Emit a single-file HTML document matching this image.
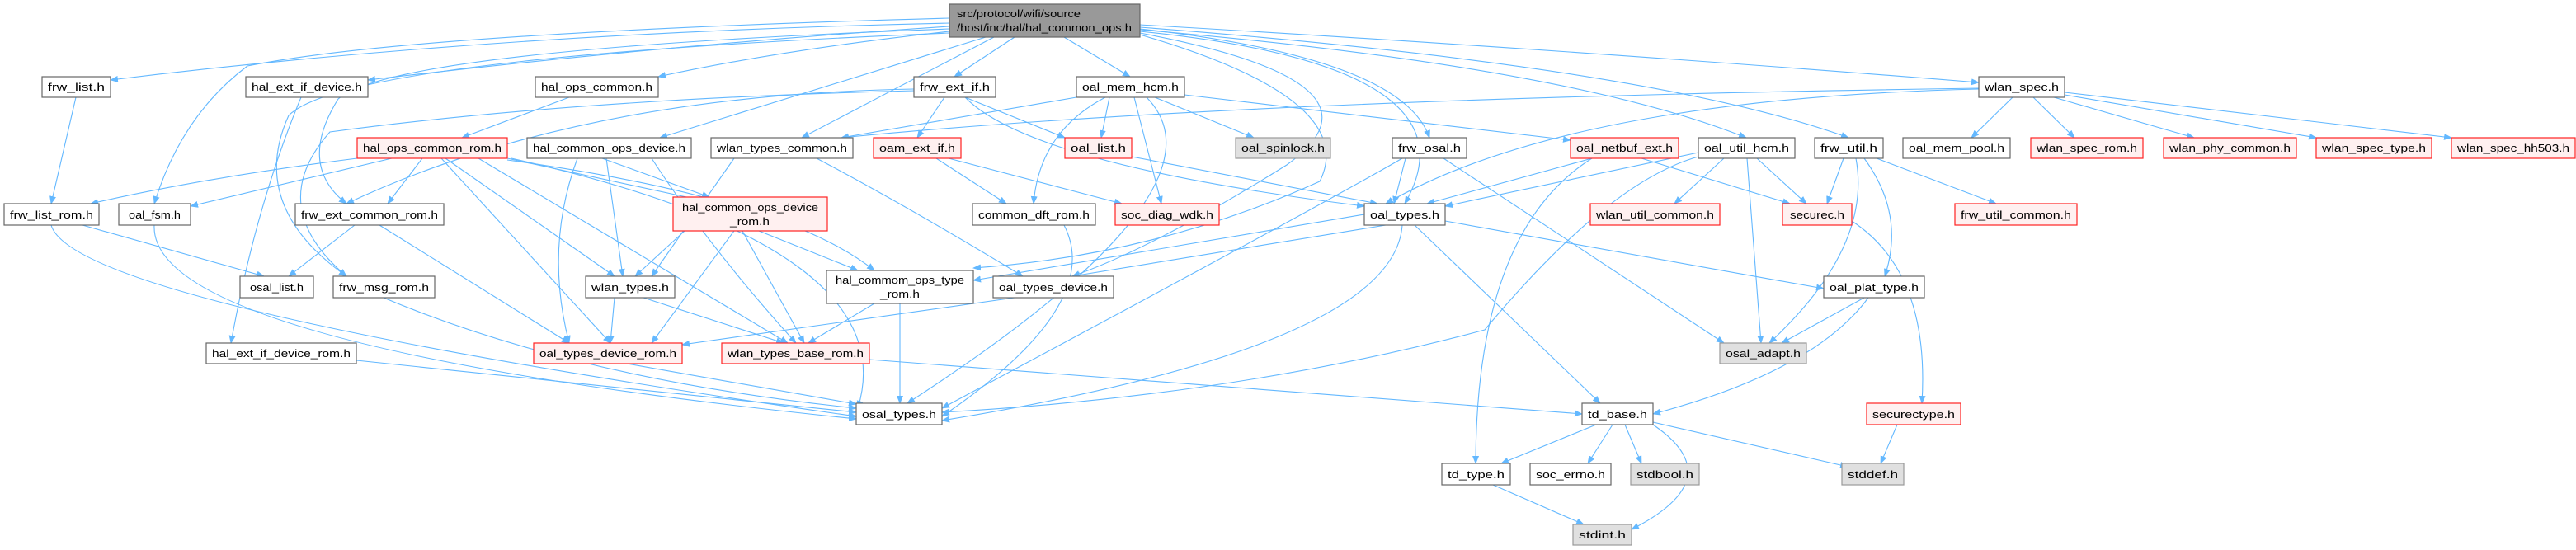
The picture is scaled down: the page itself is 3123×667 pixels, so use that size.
<!DOCTYPE html>
<html><head><meta charset="utf-8"><style>
html,body{margin:0;padding:0;background:#fff;}
svg{display:block;}
text{font-family:"Liberation Sans",sans-serif;font-size:13px;fill:#000;}
.e{stroke:#63b8ff;stroke-width:1.1;fill:none;marker-end:url(#a);}
.n{fill:#fff;stroke:#666;stroke-width:1.2;}
.r{fill:#fff0f0;stroke:#f22;stroke-width:1.2;}
.g{fill:#e0e0e0;stroke:#999;stroke-width:1.2;}
</style></head><body>
<svg width="3123" height="667" viewBox="0 0 3123 667" xmlns="http://www.w3.org/2000/svg">
<defs><marker id="a" markerWidth="10" markerHeight="8" refX="9" refY="4" orient="auto" markerUnits="userSpaceOnUse"><path d="M0,0 L10,4 L0,8 z" fill="#63b8ff"/></marker></defs>
<g>
<!-- root edges -->
<path class="e" d="M1151,28 Q600,40 134,97"/>
<path class="e" d="M1151,32 Q800,55 446,97"/>
<path class="e" d="M1151,38 Q950,60 798,93"/>
<path class="e" d="M1151,22 Q500,40 300,80 Q220,140 187,247"/>
<path class="e" d="M1230,45 L1157,93"/>
<path class="e" d="M1290,45 L1370,93"/>
<path class="e" d="M1382,30 Q1900,60 2399,100"/>
<path class="e" d="M1205,45 L972,167"/>
<path class="e" d="M1195,45 L800,167"/>
<path class="e" d="M1382,35 Q1700,70 1733,167"/>
<path class="e" d="M1382,38 Q1800,80 1703,247"/>
<path class="e" d="M1382,36 Q1900,80 2117,167"/>
<path class="e" d="M1382,33 Q2000,80 2241,167"/>
<path class="e" d="M1151,35 Q480,60 410,120 Q360,200 420,247"/>
<path class="e" d="M1151,40 Q420,70 350,140 Q300,250 420,335"/>
<path class="e" d="M1382,40 Q1700,100 1560,200 Q1400,300 1300,335"/>
<path class="e" d="M1382,42 Q1650,120 1600,220 Q1400,310 1180,325"/>
<!-- layer 1 -->
<path class="e" d="M690,118 L560,167"/>
<path class="e" d="M92,118 L62,247"/>
<path class="e" d="M365,118 Q310,250 280,416"/>
<path class="e" d="M1108,108 Q700,115 420,247"/>
<path class="e" d="M1108,110 Q700,120 400,160 Q320,250 420,335"/>
<path class="e" d="M1145,118 L1112,167"/>
<path class="e" d="M1170,118 L1291,167"/>
<path class="e" d="M1170,118 Q1250,200 1654,250"/>
<path class="e" d="M1305,118 L1020,167"/>
<path class="e" d="M1345,118 L1335,167"/>
<path class="e" d="M1400,118 L1520,167"/>
<path class="e" d="M1340,118 Q1260,160 1253,247"/>
<path class="e" d="M1375,118 L1408,247"/>
<path class="e" d="M1390,118 Q1500,230 1100,489"/>
<path class="e" d="M1436,115 L1904,170"/>
<path class="e" d="M2399,107 Q1500,120 1020,167"/>
<path class="e" d="M2399,108 Q1900,120 1680,247"/>
<path class="e" d="M2440,118 L2390,167"/>
<path class="e" d="M2465,118 L2515,167"/>
<path class="e" d="M2490,118 L2660,167"/>
<path class="e" d="M2503,115 L2808,167"/>
<path class="e" d="M2503,112 L2972,167"/>
<!-- layer 2 -->
<path class="e" d="M433,192 Q250,215 110,247"/>
<path class="e" d="M475,192 L231,250"/>
<path class="e" d="M512,192 L470,247"/>
<path class="e" d="M535,192 L740,416"/>
<path class="e" d="M540,192 L745,335"/>
<path class="e" d="M580,192 L955,416"/>
<path class="e" d="M615,192 L860,245"/>
<path class="e" d="M615,194 Q950,240 1060,328"/>
<path class="e" d="M620,192 Q1100,300 1040,495"/>
<path class="e" d="M730,192 L860,239"/>
<path class="e" d="M735,192 L755,335"/>
<path class="e" d="M700,192 Q660,300 690,416"/>
<path class="e" d="M790,192 Q860,300 965,416"/>
<path class="e" d="M890,192 L790,335"/>
<path class="e" d="M990,192 Q1100,250 1240,335"/>
<path class="e" d="M1135,192 L1220,247"/>
<path class="e" d="M1150,192 L1360,247"/>
<path class="e" d="M1372,190 L1670,247"/>
<path class="e" d="M1704,192 L1690,247"/>
<path class="e" d="M1700,192 Q1600,250 1142,495"/>
<path class="e" d="M1750,192 L2090,416"/>
<path class="e" d="M1930,192 L1730,247"/>
<path class="e" d="M1990,192 L2170,247"/>
<path class="e" d="M1930,192 Q1790,280 1789,562"/>
<path class="e" d="M2059,185 L1752,250"/>
<path class="e" d="M2090,192 L2030,247"/>
<path class="e" d="M2130,192 L2190,247"/>
<path class="e" d="M2118,192 L2135,416"/>
<path class="e" d="M2059,190 Q1950,220 1800,400 Q1500,480 1142,500"/>
<path class="e" d="M2235,192 L2215,247"/>
<path class="e" d="M2275,192 L2420,247"/>
<path class="e" d="M2260,192 Q2310,260 2285,335"/>
<path class="e" d="M2250,192 Q2270,300 2145,416"/>
<!-- layer 3 -->
<path class="e" d="M890,280 L790,416"/>
<path class="e" d="M900,280 L975,416"/>
<path class="e" d="M920,280 L1040,328"/>
<path class="e" d="M830,280 L770,335"/>
<path class="e" d="M62,273 Q90,370 1038,505"/>
<path class="e" d="M100,273 L320,335"/>
<path class="e" d="M187,273 Q180,420 1038,508"/>
<path class="e" d="M430,273 L350,335"/>
<path class="e" d="M460,273 L690,416"/>
<path class="e" d="M1290,273 Q1340,370 1142,505"/>
<path class="e" d="M1654,260 L1180,340"/>
<path class="e" d="M1680,273 L1300,335"/>
<path class="e" d="M1752,268 L2211,350"/>
<path class="e" d="M1715,273 L1940,489"/>
<path class="e" d="M1700,273 Q1690,420 1142,510"/>
<path class="e" d="M2245,268 Q2340,330 2330,489"/>
<!-- layer 4 -->
<path class="e" d="M1230,361 L827,418"/>
<path class="e" d="M745,361 L740,416"/>
<path class="e" d="M780,361 L950,416"/>
<path class="e" d="M465,361 Q700,460 1038,495"/>
<path class="e" d="M1060,368 L980,416"/>
<path class="e" d="M1091,368 L1091,489"/>
<path class="e" d="M432,437 L1038,500"/>
<path class="e" d="M760,441 L1038,490"/>
<path class="e" d="M1054,436 L1918,502"/>
<path class="e" d="M2260,361 L2160,416"/>
<path class="e" d="M2265,361 Q2200,450 2004,502"/>
<!-- bottom -->
<path class="e" d="M1935,515 L1820,562"/>
<path class="e" d="M1955,515 L1925,562"/>
<path class="e" d="M1970,515 L1990,562"/>
<path class="e" d="M2004,512 L2240,566"/>
<path class="e" d="M2004,515 Q2100,580 1978,642"/>
<path class="e" d="M2300,515 L2280,562"/>
<path class="e" d="M1810,588 L1920,636"/>
</g>
<g>
<rect class="n" x="1151" y="5" width="231" height="40" style="fill:#999"/>
<text x="1160" y="21" textLength="150" lengthAdjust="spacingAndGlyphs">src/protocol/wifi/source</text>
<text x="1160" y="38" textLength="212" lengthAdjust="spacingAndGlyphs">/host/inc/hal/hal_common_ops.h</text>
<rect class="n" x="51" y="93" width="83" height="25"/><text x="58" y="110" textLength="69" lengthAdjust="spacingAndGlyphs">frw_list.h</text>
<rect class="n" x="298" y="93" width="148" height="25"/><text x="305" y="110" textLength="134" lengthAdjust="spacingAndGlyphs">hal_ext_if_device.h</text>
<rect class="n" x="649" y="93" width="149" height="25"/><text x="656" y="110" textLength="135" lengthAdjust="spacingAndGlyphs">hal_ops_common.h</text>
<rect class="n" x="1108" y="93" width="99" height="25"/><text x="1115" y="110" textLength="85" lengthAdjust="spacingAndGlyphs">frw_ext_if.h</text>
<rect class="n" x="1305" y="93" width="131" height="25"/><text x="1312" y="110" textLength="117" lengthAdjust="spacingAndGlyphs">oal_mem_hcm.h</text>
<rect class="n" x="2399" y="93" width="104" height="25"/><text x="2406" y="110" textLength="90" lengthAdjust="spacingAndGlyphs">wlan_spec.h</text>

<rect class="r" x="433" y="167" width="182" height="25"/><text x="440" y="184" textLength="168" lengthAdjust="spacingAndGlyphs">hal_ops_common_rom.h</text>
<rect class="n" x="639" y="167" width="199" height="25"/><text x="646" y="184" textLength="185" lengthAdjust="spacingAndGlyphs">hal_common_ops_device.h</text>
<rect class="n" x="862" y="167" width="172" height="25"/><text x="869" y="184" textLength="158" lengthAdjust="spacingAndGlyphs">wlan_types_common.h</text>
<rect class="r" x="1059" y="167" width="106" height="25"/><text x="1066" y="184" textLength="92" lengthAdjust="spacingAndGlyphs">oam_ext_if.h</text>
<rect class="r" x="1291" y="167" width="81" height="25"/><text x="1298" y="184" textLength="67" lengthAdjust="spacingAndGlyphs">oal_list.h</text>
<rect class="g" x="1498" y="167" width="115" height="25"/><text x="1505" y="184" textLength="101" lengthAdjust="spacingAndGlyphs">oal_spinlock.h</text>
<rect class="n" x="1688" y="167" width="90" height="25"/><text x="1695" y="184" textLength="76" lengthAdjust="spacingAndGlyphs">frw_osal.h</text>
<rect class="r" x="1904" y="167" width="131" height="25"/><text x="1911" y="184" textLength="117" lengthAdjust="spacingAndGlyphs">oal_netbuf_ext.h</text>
<rect class="n" x="2059" y="167" width="117" height="25"/><text x="2066" y="184" textLength="103" lengthAdjust="spacingAndGlyphs">oal_util_hcm.h</text>
<rect class="n" x="2200" y="167" width="83" height="25"/><text x="2207" y="184" textLength="69" lengthAdjust="spacingAndGlyphs">frw_util.h</text>
<rect class="n" x="2307" y="167" width="130" height="25"/><text x="2314" y="184" textLength="116" lengthAdjust="spacingAndGlyphs">oal_mem_pool.h</text>
<rect class="r" x="2462" y="167" width="136" height="25"/><text x="2469" y="184" textLength="122" lengthAdjust="spacingAndGlyphs">wlan_spec_rom.h</text>
<rect class="r" x="2623" y="167" width="161" height="25"/><text x="2630" y="184" textLength="147" lengthAdjust="spacingAndGlyphs">wlan_phy_common.h</text>
<rect class="r" x="2808" y="167" width="140" height="25"/><text x="2815" y="184" textLength="126" lengthAdjust="spacingAndGlyphs">wlan_spec_type.h</text>
<rect class="r" x="2972" y="167" width="150" height="25"/><text x="2979" y="184" textLength="136" lengthAdjust="spacingAndGlyphs">wlan_spec_hh503.h</text>

<rect class="r" x="816" y="239" width="187" height="41"/>
<text x="827" y="256" textLength="165" lengthAdjust="spacingAndGlyphs">hal_common_ops_device</text>
<text x="885" y="273" textLength="48" lengthAdjust="spacingAndGlyphs">_rom.h</text>
<rect class="n" x="5" y="247" width="115" height="26"/><text x="12" y="265" textLength="101" lengthAdjust="spacingAndGlyphs">frw_list_rom.h</text>
<rect class="n" x="144" y="247" width="87" height="26"/><text x="156" y="265" textLength="63" lengthAdjust="spacingAndGlyphs">oal_fsm.h</text>
<rect class="n" x="358" y="247" width="180" height="26"/><text x="365" y="265" textLength="166" lengthAdjust="spacingAndGlyphs">frw_ext_common_rom.h</text>
<rect class="n" x="1179" y="247" width="149" height="26"/><text x="1186" y="265" textLength="135" lengthAdjust="spacingAndGlyphs">common_dft_rom.h</text>
<rect class="r" x="1352" y="247" width="126" height="26"/><text x="1359" y="265" textLength="112" lengthAdjust="spacingAndGlyphs">soc_diag_wdk.h</text>
<rect class="n" x="1654" y="247" width="98" height="26"/><text x="1661" y="265" textLength="84" lengthAdjust="spacingAndGlyphs">oal_types.h</text>
<rect class="r" x="1928" y="247" width="157" height="26"/><text x="1935" y="265" textLength="143" lengthAdjust="spacingAndGlyphs">wlan_util_common.h</text>
<rect class="r" x="2161" y="247" width="84" height="26"/><text x="2170" y="265" textLength="66" lengthAdjust="spacingAndGlyphs">securec.h</text>
<rect class="r" x="2370" y="247" width="148" height="26"/><text x="2377" y="265" textLength="134" lengthAdjust="spacingAndGlyphs">frw_util_common.h</text>

<rect class="n" x="1002" y="328" width="178" height="40"/>
<text x="1013" y="344" textLength="156" lengthAdjust="spacingAndGlyphs">hal_commom_ops_type</text>
<text x="1067" y="361" textLength="48" lengthAdjust="spacingAndGlyphs">_rom.h</text>
<rect class="n" x="291" y="335" width="89" height="26"/><text x="303" y="353" textLength="65" lengthAdjust="spacingAndGlyphs">osal_list.h</text>
<rect class="n" x="404" y="335" width="123" height="26"/><text x="411" y="353" textLength="109" lengthAdjust="spacingAndGlyphs">frw_msg_rom.h</text>
<rect class="n" x="710" y="335" width="108" height="26"/><text x="717" y="353" textLength="94" lengthAdjust="spacingAndGlyphs">wlan_types.h</text>
<rect class="n" x="1204" y="335" width="146" height="26"/><text x="1211" y="353" textLength="132" lengthAdjust="spacingAndGlyphs">oal_types_device.h</text>
<rect class="n" x="2211" y="335" width="122" height="26"/><text x="2218" y="353" textLength="108" lengthAdjust="spacingAndGlyphs">oal_plat_type.h</text>

<rect class="n" x="250" y="416" width="182" height="25"/><text x="257" y="433" textLength="168" lengthAdjust="spacingAndGlyphs">hal_ext_if_device_rom.h</text>
<rect class="r" x="647" y="416" width="180" height="25"/><text x="654" y="433" textLength="166" lengthAdjust="spacingAndGlyphs">oal_types_device_rom.h</text>
<rect class="r" x="875" y="416" width="179" height="25"/><text x="882" y="433" textLength="165" lengthAdjust="spacingAndGlyphs">wlan_types_base_rom.h</text>
<rect class="g" x="2085" y="416" width="105" height="25"/><text x="2092" y="433" textLength="91" lengthAdjust="spacingAndGlyphs">osal_adapt.h</text>

<rect class="n" x="1038" y="489" width="104" height="26"/><text x="1045" y="507" textLength="90" lengthAdjust="spacingAndGlyphs">osal_types.h</text>
<rect class="n" x="1918" y="489" width="86" height="26"/><text x="1925" y="507" textLength="72" lengthAdjust="spacingAndGlyphs">td_base.h</text>
<rect class="r" x="2263" y="489" width="114" height="26"/><text x="2270" y="507" textLength="100" lengthAdjust="spacingAndGlyphs">securectype.h</text>

<rect class="n" x="1748" y="562" width="83" height="26"/><text x="1755" y="580" textLength="69" lengthAdjust="spacingAndGlyphs">td_type.h</text>
<rect class="n" x="1855" y="562" width="98" height="26"/><text x="1862" y="580" textLength="84" lengthAdjust="spacingAndGlyphs">soc_errno.h</text>
<rect class="g" x="1977" y="562" width="83" height="26"/><text x="1984" y="580" textLength="69" lengthAdjust="spacingAndGlyphs">stdbool.h</text>
<rect class="g" x="2233" y="562" width="75" height="26"/><text x="2240" y="580" textLength="61" lengthAdjust="spacingAndGlyphs">stddef.h</text>
<rect class="g" x="1907" y="636" width="71" height="25"/><text x="1914" y="653" textLength="57" lengthAdjust="spacingAndGlyphs">stdint.h</text>
</g>
</svg>
</body></html>
